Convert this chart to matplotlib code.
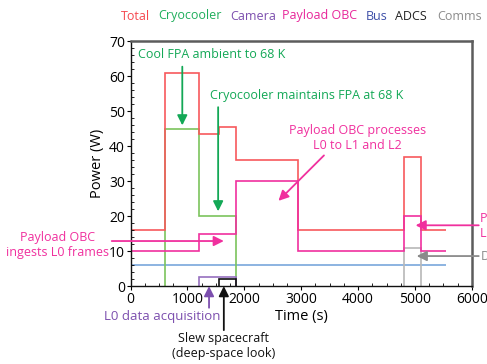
import matplotlib.pyplot as plt
from matplotlib.ticker import MultipleLocator

plt.rcParams['font.family'] = ['Open Sans', 'DejaVu Sans']
plt.rcParams['font.size'] = 8.5

# power budget per subsystem (W) over one observation cycle (s)
total_edges = [0, 600, 1200, 1550, 1850, 2950, 4800, 5100, 5550]
total_power = [16, 61, 43.5, 45.5, 36, 16, 37, 16]

cryo_edges = [600, 1200, 1850]
cryo_power = [45, 20]

camera_edges = [1200, 1850]
camera_power = [2.5]

obc_edges = [0, 1200, 1850, 2950, 4800, 5100, 5550]
obc_power = [10, 15, 30, 10, 20, 10]

bus_edges = [0, 5550]
bus_power = [6]

adcs_edges = [1550, 1850]
adcs_power = [2]

comms_edges = [4800, 5100]
comms_power = [11]

legend_names = ['Total', 'Cryocooler', 'Camera', 'Payload OBC', 'Bus', 'ADCS', 'Comms']
legend_colors = ['#f5484f', '#1fae5c', '#7c4fae', '#e8269a', '#3d4fa8', '#222222', '#8c8c8c']
legend_x = [121, 158, 230, 282, 366, 395, 437]

c_total = '#f7595c'
c_cryo = '#7cc45c'
c_camera = '#9670bf'
c_obc = '#f0309e'
c_bus = '#79a7dc'
c_adcs = '#111111'
c_comms = '#b8b8b8'
c_green = '#13a856'
c_purple = '#7c4fae'
c_gray = '#8a8a8a'

fig = plt.figure(figsize=(4.87, 3.64), dpi=100)
ax = fig.add_axes([0.268, 0.214, 0.701, 0.672])

lw = 1.2
ax.stairs(bus_power, bus_edges, baseline=None, color=c_bus, lw=lw)
ax.stairs(comms_power, comms_edges, baseline=0, color=c_comms, lw=lw)
ax.stairs(cryo_power, cryo_edges, baseline=0, color=c_cryo, lw=lw)
ax.stairs(camera_power, camera_edges, baseline=0, color=c_camera, lw=lw)
ax.stairs(adcs_power, adcs_edges, baseline=0, color=c_adcs, lw=lw)
ax.stairs(total_power, total_edges, baseline=None, color=c_total, lw=lw)
ax.stairs(obc_power, obc_edges, baseline=None, color=c_obc, lw=lw)

ax.set_xlim(0, 6000)
ax.set_ylim(0, 70)
ax.xaxis.set_major_locator(MultipleLocator(1000))
ax.xaxis.set_minor_locator(MultipleLocator(250))
ax.yaxis.set_major_locator(MultipleLocator(10))
ax.yaxis.set_minor_locator(MultipleLocator(2))
ax.tick_params(which='major', direction='out', length=3, width=0.8, labelsize=10, pad=1)
ax.tick_params(which='minor', direction='in', length=2, width=0.6)
ax.set_xlabel('Time (s)', fontsize=10.5, labelpad=2)
ax.set_ylabel('Power (W)', fontsize=10.5, labelpad=3)

for side in ('left', 'bottom'):
    ax.spines[side].set_color('#111111')
    ax.spines[side].set_linewidth(1.0)
for side in ('top', 'right'):
    ax.spines[side].set_color('#5c5c5c')
    ax.spines[side].set_linewidth(1.8)

# colored text legend across the top
for name, col, px in zip(legend_names, legend_colors, legend_x):
    fig.text(px / 487, 1 - 16 / 364, name, color=col, fontsize=9, ha='left', va='center')

head = dict(arrowstyle='-|>,head_length=0.7,head_width=0.35', lw=1.3, shrinkA=0, shrinkB=0)

ax.text(130, 66.3, 'Cool FPA ambient to 68 K', color=c_green, fontsize=9, ha='left', va='center')
ax.annotate('', xy=(910, 46), xytext=(910, 62.8),
            arrowprops=dict(head, color=c_green))

ax.text(1390, 54.6, 'Cryocooler maintains FPA at 68 K', color=c_green, fontsize=9,
        ha='left', va='center')
ax.annotate('', xy=(1540, 21.4), xytext=(1540, 51.2),
            arrowprops=dict(head, color=c_green))

ax.text(3990, 42.4, 'Payload OBC processes\nL0 to L1 and L2', color=c_obc, fontsize=9,
        ha='center', va='center', linespacing=1.25)
ax.annotate('', xy=(2600, 24.4), xytext=(3400, 37.4),
            arrowprops=dict(head, color=c_obc))

ax.text(-1290, 11.8, 'Payload OBC\ningests L0 frames', color=c_obc, fontsize=9,
        ha='center', va='center', linespacing=1.25, clip_on=False)
ax.annotate('', xy=(1640, 12.9), xytext=(-330, 12.9), annotation_clip=False,
            arrowprops=dict(head, color=c_obc))

ax.text(6150, 17.2, 'Payload OBC sends\nL2 to Comms', color=c_obc, fontsize=9,
        ha='left', va='center', linespacing=1.25, clip_on=False)
ax.annotate('', xy=(5010, 17.4), xytext=(6120, 17.4), annotation_clip=False,
            arrowprops=dict(head, color=c_obc))

ax.text(6150, 8.6, 'Downlink', color=c_gray, fontsize=9,
        ha='left', va='center', clip_on=False)
ax.annotate('', xy=(5030, 8.6), xytext=(6120, 8.6), annotation_clip=False,
            arrowprops=dict(head, color=c_gray))

ax.text(560, -8.7, 'L0 data acquisition', color=c_purple, fontsize=9.5,
        ha='center', va='center', clip_on=False)
ax.annotate('', xy=(1380, 0), xytext=(1380, -6.2), annotation_clip=False,
            arrowprops=dict(head, color=c_purple))

ax.text(1640, -17.2, 'Slew spacecraft\n(deep-space look)', color='#111111', fontsize=9,
        ha='center', va='center', linespacing=1.25, clip_on=False)
ax.annotate('', xy=(1640, 0), xytext=(1640, -12.6), annotation_clip=False,
            arrowprops=dict(head, color='#111111'))

fig.savefig('out.png', dpi=100)
